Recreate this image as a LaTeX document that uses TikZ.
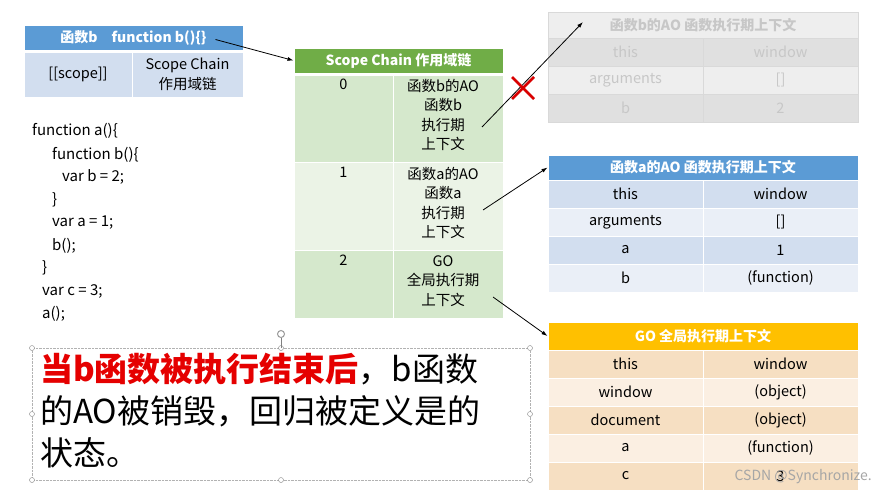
\documentclass[tikz,border=0pt]{standalone}
\usepackage{fontspec}
\setmainfont{Noto Sans CJK SC}
\usetikzlibrary{arrows.meta}
\definecolor{bhead}{HTML}{5B9BD5}
\definecolor{brow}{HTML}{D2DEEF}
\definecolor{brow2}{HTML}{EAEFF7}
\definecolor{ghead}{HTML}{70AD47}
\definecolor{grow}{HTML}{D5E8CC}
\definecolor{grow2}{HTML}{EBF3E6}
\definecolor{ohead}{HTML}{FFC000}
\definecolor{orow}{HTML}{F6DFC2}
\definecolor{orow2}{HTML}{FBEFE2}
\definecolor{frow}{HTML}{E0E0E0}
\definecolor{frow2}{HTML}{EEEEEE}
\begin{document}
\begin{tikzpicture}[x=1pt,y=-1pt,
  cell/.style={draw=white,line width=1pt,inner sep=1pt,align=center,font=\fontsize{14.5}{19.5}\selectfont},
  lbl/.style={inner sep=1pt,align=center,font=\fontsize{14.5}{19.5}\selectfont},
  head/.style={cell,text=white,font=\bfseries\fontsize{14}{16}\selectfont},
  arr/.style={-{Latex[length=6pt,width=4pt]},line width=0.8pt},
  code/.style={anchor=west,inner sep=0,font=\fontsize{15}{17}\selectfont}]
\useasboundingbox (0,0) rectangle (885,499);
\fill[white] (0,0) rectangle (885,499);
% function b box
\node[head,fill=bhead,minimum width=219,minimum height=25] (fb) at (133.5,37.5) {函数b\quad function b()\{\}};
\node[cell,fill=brow,minimum width=108,minimum height=45] (sc1) at (78,74.5) {[[scope]]};
\node[cell,fill=brow,minimum width=111,minimum height=45] (sc2) at (187.5,74.5) {Scope Chain\\作用域链};
% code
\node[code] (c1) at (32,131) {function a()\{};
\node[code] (c2) at (52,155) {function b()\{};
\node[code] (c3) at (62,177) {var b = 2;};
\node[code] (c4) at (52,200) {\}};
\node[code] (c5) at (52,223) {var a = 1;};
\node[code] (c6) at (52,246) {b();};
\node[code] (c7) at (42,268) {\}};
\node[code] (c8) at (42,291) {var c = 3;};
\node[code] (c9) at (42,314) {a();};
% scope chain
\node[head,fill=ghead,minimum width=209,minimum height=25] (sch) at (398.5,60.5) {Scope Chain 作用域链};
\node[cell,fill=grow,minimum width=99,minimum height=87] (r0a) at (343.5,118.5) {};
\node[cell,fill=grow,minimum width=110,minimum height=87] (r0b) at (448,118.5) {};
\node[cell,fill=grow2,minimum width=99,minimum height=88] (r1a) at (343.5,206) {};
\node[cell,fill=grow2,minimum width=110,minimum height=88] (r1b) at (448,206) {};
\node[cell,fill=grow,minimum width=99,minimum height=68] (r2a) at (343.5,284) {};
\node[cell,fill=grow,minimum width=110,minimum height=68] (r2b) at (448,284) {};
\node[lbl,anchor=north] (n0) at (343.5,78) {0};
\node[lbl,anchor=north] (n1) at (343.5,166) {1};
\node[lbl,anchor=north] (n2) at (343.5,254) {2};
\node[lbl,anchor=north] (t0) at (443,78) {函数b的AO\\函数b\\执行期\\上下文};
\node[lbl,anchor=north] (t1) at (443,166) {函数a的AO\\函数a\\执行期\\上下文};
\node[lbl,anchor=north] (t2) at (443,254) {GO\\全局执行期\\上下文};
% faded table
\begin{scope}[text=black!22]
\node[cell,fill=frow2,draw=black!15,minimum width=310,minimum height=26,font=\bfseries\fontsize{14}{16}\selectfont] (fh) at (703,25) {函数b的AO 函数执行期上下文};
\node[cell,fill=frow,draw=black!15,minimum width=155,minimum height=28] at (625.5,52) {this};
\node[cell,fill=frow,draw=black!15,minimum width=155,minimum height=28] at (780.5,52) {window};
\node[cell,fill=frow2,draw=black!15,minimum width=155,minimum height=28] at (625.5,80) {arguments};
\node[cell,fill=frow2,draw=black!15,minimum width=155,minimum height=28] at (780.5,80) {[]};
\node[cell,fill=frow,draw=black!15,minimum width=155,minimum height=28] at (625.5,108) {b};
\node[cell,fill=frow,draw=black!15,minimum width=155,minimum height=28] at (780.5,108) {2};
\end{scope}
% function a AO
\node[head,fill=bhead,minimum width=310,minimum height=25] (ah) at (703,167.5) {函数a的AO 函数执行期上下文};
\foreach \l/\r/\y/\c in {this/window/194/brow,arguments/[]/222/brow2,a/1/250/brow,b/(function)/278/brow2}{
  \node[cell,fill=\c,minimum width=155,minimum height=28] at (625.5,\y) {\l};
  \node[cell,fill=\c,minimum width=155,minimum height=28] at (780.5,\y) {\r};
}
% GO
\node[head,fill=ohead,minimum width=310,minimum height=28] (gh) at (703,336) {GO 全局执行期上下文};
\foreach \l/\r/\y/\c in {this/window/364/orow,window/(object)/392/orow2,document/(object)/420/orow,a/(function)/448/orow2,c/3/476/orow}{
  \node[cell,fill=\c,minimum width=155,minimum height=28] at (625.5,\y) {\l};
  \node[cell,fill=\c,minimum width=155,minimum height=28] at (780.5,\y) {\r};
}
% arrows
\coordinate (p0) at (482,127);
\coordinate (p1) at (483,210);
\coordinate (p2) at (493,297);
\draw[arr] (fb.east) ++(-28,2) -- (sch.west);
\draw[arr] (p0) -- (583,22);
\draw[arr] (p1) -- (ah.west);
\draw[arr] (p2) -- (gh.west);
% red X
\draw[red!85!black,line width=2.5pt] (512,77) -- (534,99) (534,77) -- (512,99);
% text box
\draw[gray!60,densely dotted] (32,348) rectangle (530,480);
\foreach \p in {(32,348),(281,348),(530,348),(32,414),(530,414),(32,480),(281,480),(530,480)} \draw[gray,fill=white] \p circle (2.5);
\draw[gray] (281,348) -- (281,338);
\draw[gray!80,line width=1pt] (281,334) circle (3.5);
\node[anchor=north west,inner sep=0,align=left,font=\fontsize{33}{42}\selectfont] (txt) at (40,353)
 {{\color{red!90!black}\bfseries 当b函数被执行结束后}，b函数\\的AO被销毁，回归被定义是的\\状态。};
\node[anchor=east,inner sep=0,text=gray!70,font=\fontsize{14}{16}\selectfont] (wm) at (872,477) {CSDN @Synchronize.};
\end{tikzpicture}
\end{document}
